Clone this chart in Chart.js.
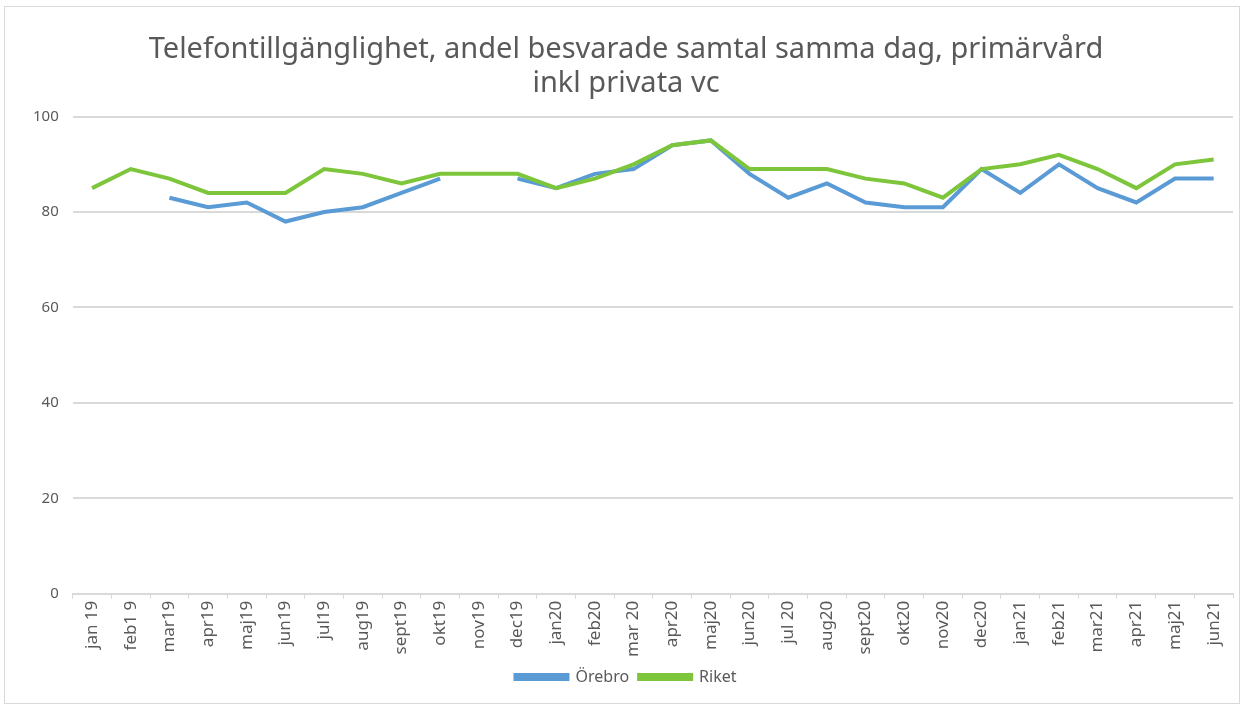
<!DOCTYPE html>
<html><head><meta charset="utf-8">
<script src="https://cdn.jsdelivr.net/npm/chart.js@4"></script>
<style>
html,body{margin:0;padding:0;background:#fff;}
#wrap{position:absolute;left:4px;top:6px;width:1236px;height:698px;border:1px solid #d9d9d9;box-sizing:border-box;}
canvas{display:block;}
</style></head><body>
<div id="wrap"><canvas id="c" width="1234" height="696"></canvas></div>
<script>
const categories = ['jan 19','feb1 9','mar19','apr19','maj19','jun19','jul19','aug19','sept19','okt19','nov19','dec19','jan20','feb20','mar 20','apr20','maj20','jun20','jul 20','aug20','sept20','okt20','nov20','dec20','jan21','feb21','mar21','apr21','maj21','jun21'];
const orebro = [null,null,83,81,82,78,80,81,84,87,null,87,85,88,89,94,95,88,83,86,82,81,81,89,84,90,85,82,87,87];
const riket = [85,89,87,84,84,84,89,88,86,88,88,88,85,87,90,94,95,89,89,89,87,86,83,89,90,92,89,85,90,91];
const yTicks = [0,20,40,60,80,100];

new Chart(document.getElementById('c'), {
  type: 'line',
  data: {
    labels: categories,
    datasets: [
      {label:'Riket', data:riket, borderColor:'#7DC63B', backgroundColor:'#7DC63B', borderWidth:4, pointRadius:0, tension:0, order:1},
      {label:'Örebro', data:orebro, borderColor:'#5B9BD5', backgroundColor:'#5B9BD5', borderWidth:4, pointRadius:0, tension:0, spanGaps:false, order:2}
    ]
  },
  options: {
    responsive:false, animation:false,
    layout:{padding:{left:14,right:6,top:0,bottom:8}},
    plugins:{
      title:{display:true, text:['Telefontillgänglighet, andel besvarade samtal samma dag, primärvård','inkl privata vc'], color:'#595959', font:{family:"'Noto Sans',sans-serif", size:29, weight:'normal'}, padding:{top:25,bottom:15}, lineHeight:1.55},
      legend:{position:'bottom', reverse:true, labels:{color:'#595959', font:{family:"'Noto Sans',sans-serif", size:16}, boxWidth:52, boxHeight:4, padding:10}},
      tooltip:{enabled:false}
    },
    scales:{
      x:{offset:true, grid:{display:true, drawOnChartArea:false, drawTicks:true, tickLength:5, color:'#d9d9d9', offset:true}, border:{color:'#d9d9d9'},
         ticks:{color:'#595959', minRotation:90, maxRotation:90, autoSkip:false, padding:2, font:{family:"'Noto Sans',sans-serif", size:17}}},
      y:{min:0, max:100, afterBuildTicks:(s)=>{s.ticks = yTicks.map(v=>({value:v}));},
         grid:{color:'#d9d9d9', lineWidth:2, drawTicks:false}, border:{display:false},
         ticks:{color:'#595959', padding:14, font:{family:"'Noto Sans',sans-serif", size:15}}}
    }
  }
});
</script></body></html>
